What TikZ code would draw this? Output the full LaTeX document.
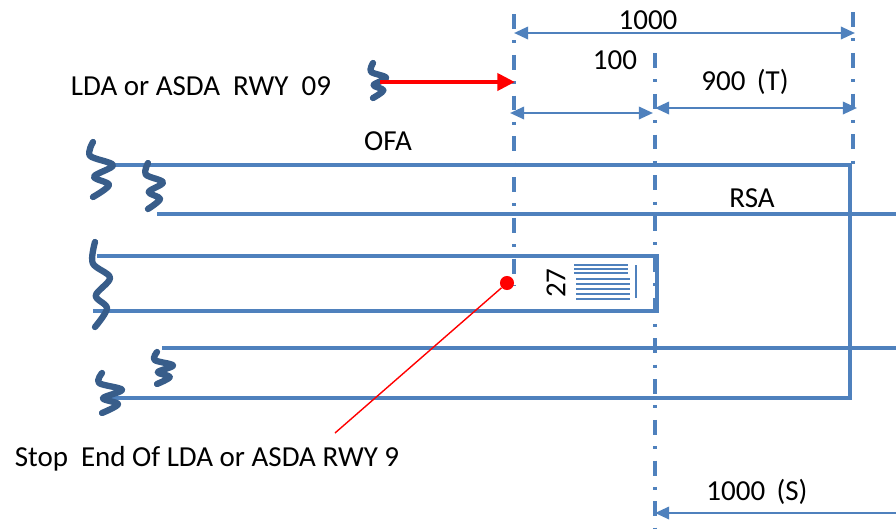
\documentclass[tikz,border=0pt]{standalone}
\usepackage{fontspec}
\setmainfont{Carlito}
\usetikzlibrary{arrows.meta}
\definecolor{rwyblue}{RGB}{79,129,189}
\definecolor{squigblue}{RGB}{56,93,138}
\def\squiggle(#1)(#2:#3){\draw[squig,shift={(#1)},xscale=#2,yscale=#3] plot[smooth,tension=0.55] coordinates {(0,0) (-0.15,0.25) (1,0.42) (0.05,0.63) (0.8,0.78) (0,1)};}
\tikzset{
	rwy/.style={rwyblue, line width=2.3pt},
	squig/.style={squigblue, line width=3.6pt, line cap=round, line join=round},
	dashdot/.style={rwyblue, line width=2pt, dash pattern=on 8.5pt off 6.5pt on 1.7pt off 6.5pt},
	dim/.style={rwyblue, line width=1.4pt, >={Triangle[length=8pt,width=7pt]}},
	redarrow/.style={red, line width=2.6pt, -{Triangle[length=10pt,width=9.5pt]}},
	lbl/.style={font=\fontsize{16.5}{19}\selectfont, inner sep=0pt},
	thbar/.style={rwyblue, line width=1.1pt},
	stopdot/.style={circle, fill=red, inner sep=0pt, minimum size=8pt}
}
\begin{document}
\begin{tikzpicture}[x=0.02cm, y=-0.02cm]
			%%%%% START %%%%%
			\useasboundingbox (0,0) rectangle (896,528);
			
			% OFA, RSA and runway
			\draw[rwy] (108,165) -- (850,165) -- (850,398) -- (110,398);
			\draw[rwy] (157,214) -- (896,214);
			\draw[rwy] (162,348) -- (896,348);
			\draw[rwy] (97,256) -- (657,256) -- (657,311) -- (93,311);
			
			% threshold 27
			\foreach \y in {265,269,273} \draw[thbar] (574,\y) -- (628,\y);
			\foreach \y in {279,284,289,294,299} \draw[thbar] (576,\y) -- (630,\y);
			\draw[thbar] (636,265) -- (636,298);
			\node[lbl, rotate=90] (l27) at (556,283) {27};
			
			% break marks
			\squiggle(93,142)(20:55);
			\squiggle(148,163)(15:46);
			\squiggle(95,242)(15:85);
			\squiggle(157,352)(16:32);
			\squiggle(102,373)(20:40);
			\squiggle(373,63)(13:35);
			
			% reference lines
			\coordinate (ldaT) at (514,14);
			\coordinate (ldaB) at (514,285);
			\coordinate (midT) at (655,53);
			\coordinate (midB) at (655,528);
			\coordinate (endT) at (853,12);
			\coordinate (endB) at (853,165);
			\draw[dashdot] (ldaT) -- (ldaB);
			\draw[dashdot] (midT) -- (midB);
			\draw[dashdot] (endT) -- (endB);
			
			% distances
			\coordinate (d1L) at (514,33);
			\coordinate (d1R) at (855,33);
			\coordinate (d2L) at (510,113);
			\coordinate (d2R) at (653,113);
			\coordinate (d3L) at (655,108);
			\coordinate (d3R) at (857,108);
			\coordinate (d4L) at (655,513);
			\coordinate (d4R) at (896,513);
			\draw[dim, <->] (d1L) -- (d1R);
			\draw[dim, <->] (d2L) -- (d2R);
			\draw[dim, <->] (d3L) -- (d3R);
			\draw[dim, <-] (d4L) -- (d4R);
			\node[lbl] (l1000) at (648,20) {1000};
			\node[lbl] (l100) at (615,60) {100};
			\node[lbl] (l900) at (745,82) {900 \,(T)};
			\node[lbl] (l1000s) at (757,492) {1000 \,(S)};
			
			% runway 09 and stop end
			\coordinate (arrS) at (380,82);
			\coordinate (arrE) at (515,82);
			\draw[redarrow] (arrS) -- (arrE);
			\node[lbl] (lrwy) at (201,86) {LDA or ASDA\ \ RWY\ \ 09};
			\node[stopdot] (stop) at (507,283) {};
			\coordinate (stopL) at (335,433);
			\draw[red, line width=0.8pt] (stop) -- (stopL);
			\node[lbl] (lstop) at (207,459) {Stop\ \ End Of LDA or ASDA RWY 9};
			
			\node[lbl] (lofa) at (388,141) {OFA};
			\node[lbl] (lrsa) at (752,198) {RSA};
			%%%%% END %%%%%
		\end{tikzpicture}
\end{document}
